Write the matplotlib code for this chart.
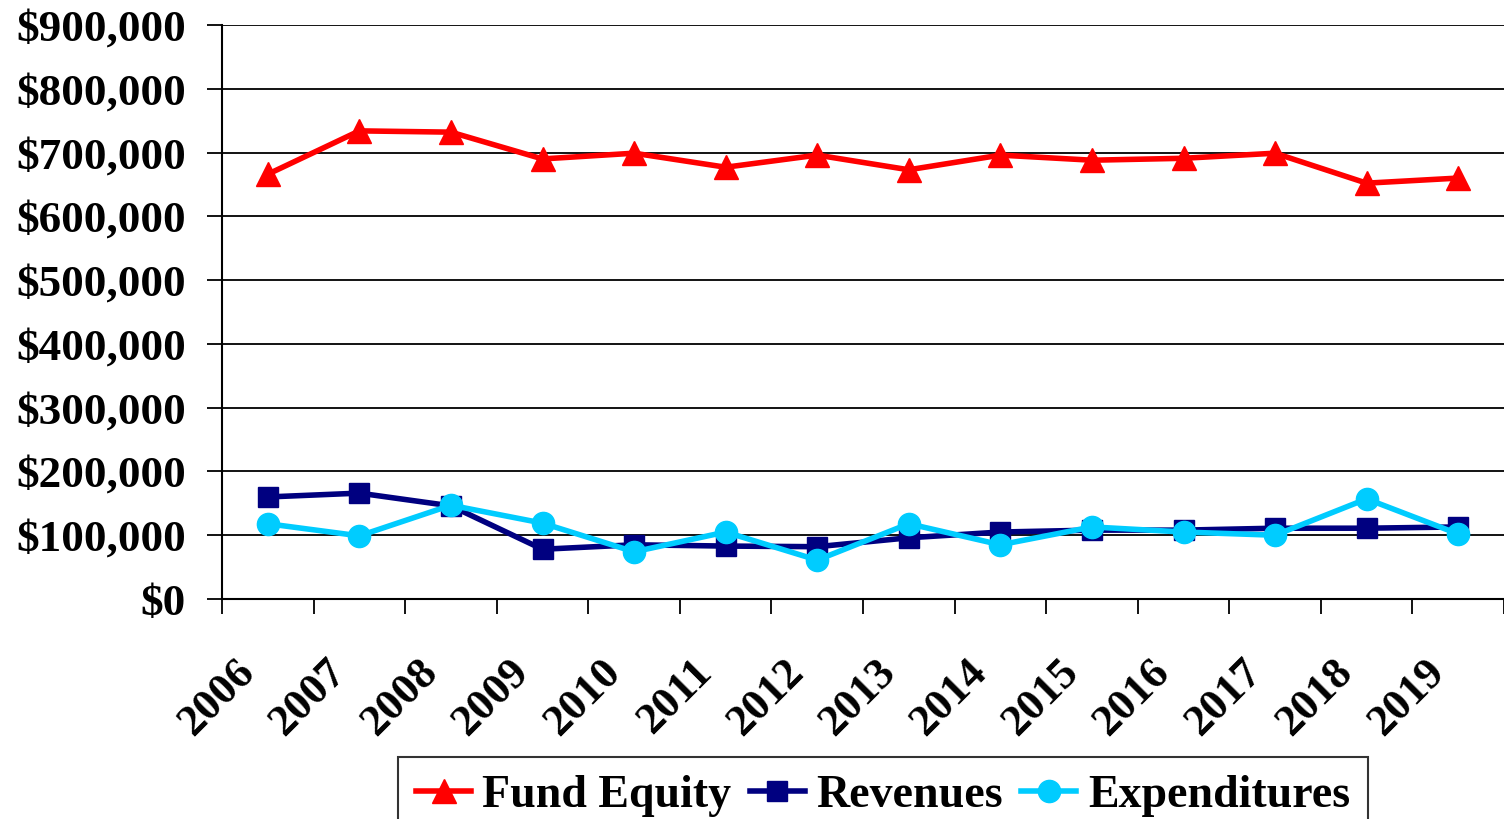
import numpy as np
import matplotlib.pyplot as plt
from matplotlib.ticker import FuncFormatter
from matplotlib.transforms import ScaledTranslation

# data
years = ["2006", "2007", "2008", "2009", "2010", "2011", "2012",
         "2013", "2014", "2015", "2016", "2017", "2018", "2019"]
fund_equity = [666000, 734000, 732000, 690000, 699000, 677000, 696000,
               673000, 696000, 688000, 691000, 699000, 652000, 660000]
revenues = [160000, 166000, 146000, 78000, 85000, 83000, 82000,
            96000, 105000, 108000, 108000, 111000, 111000, 113000]
expenditures = [118000, 99000, 147000, 119000, 74000, 105000, 61000,
                118000, 85000, 113000, 105000, 100000, 157000, 102000]

plt.rcParams['font.family'] = ['Liberation Serif', 'DejaVu Serif']
plt.rcParams['font.weight'] = 'bold'

fig = plt.figure(figsize=(15.04, 8.19), dpi=100)
ax = fig.add_axes([222 / 1504, 1 - 599 / 819, (1504 - 222) / 1504, (599 - 25) / 819])

x = np.arange(len(years))
ax.plot(x, fund_equity, color='#FF0000', lw=4, marker='^', ms=17, label='Fund Equity')
ax.plot(x, revenues, color='#000080', lw=4, marker='s', ms=15, label='Revenues')
ax.plot(x, expenditures, color='#00CCFF', lw=4, marker='o', ms=16, label='Expenditures')

ax.set_xlim(-0.5, len(years) - 0.5)
ax.set_ylim(0, 900000)
ax.set_yticks(np.arange(0, 900001, 100000))
ax.yaxis.set_major_formatter(FuncFormatter(lambda v, p: "${:,.0f}".format(v)))
ax.yaxis.grid(True, color='black', lw=1.3)
ax.set_axisbelow(True)

# tick marks between categories, labels centered
ax.set_xticks(x)
ax.set_xticklabels(years, rotation=45, ha='right', rotation_mode='anchor')
ax.set_xticks(np.arange(-0.5, len(years)), minor=True)
ax.tick_params(axis='x', which='major', length=0, pad=38, labelsize=32)
ax.tick_params(axis='x', which='minor', length=11, width=1.3, direction='out')
ax.tick_params(axis='y', length=11, width=1.3, labelsize=32.5, pad=15)

shift = ScaledTranslation(-34 / 100, 0, fig.dpi_scale_trans)
for lbl in ax.get_xticklabels():
    lbl.set_fontweight('bold')
    lbl.set_transform(lbl.get_transform() + shift)
for lbl in ax.get_yticklabels():
    lbl.set_fontweight('bold')

ax.spines['top'].set_visible(False)
ax.spines['right'].set_visible(False)
ax.spines['left'].set_linewidth(1.5)
ax.spines['bottom'].set_linewidth(1.5)

leg = fig.legend(loc='upper center', bbox_to_anchor=(883 / 1504, 1 - 757 / 819),
                 ncol=3, fontsize=33, frameon=True, fancybox=False,
                 edgecolor='black', handlelength=1.2, columnspacing=0.4,
                 handletextpad=0.25, borderpad=0.4, borderaxespad=0)
leg.get_frame().set_linewidth(1.5)
for t in leg.get_texts():
    t.set_fontweight('bold')

fig.savefig("out.png", dpi=100)
